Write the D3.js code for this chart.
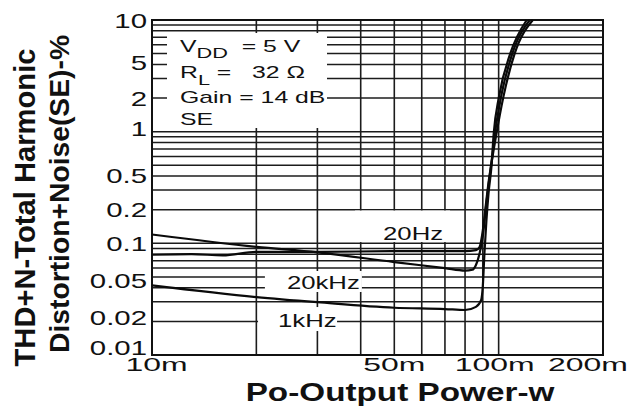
<!DOCTYPE html>
<html>
<head>
<meta charset="utf-8">
<script src="https://cdn.jsdelivr.net/npm/d3@7"></script>
<style>
  body { margin: 0; background: #fff; }
  text { font-family: "Liberation Sans", Arial, sans-serif; fill: #111; }
</style>
</head>
<body>
<div id="chart"></div>
<script>
// Output power in W, THD+N in %
var power20Hz = [0.010, 0.020, 0.030, 0.050, 0.070, 0.080, 0.084, 0.086, 0.088, 0.090, 0.0922, 0.0947, 0.0985, 0.1032, 0.1112, 0.1255];
var thd20Hz   = [0.12, 0.093, 0.083, 0.068, 0.060, 0.057, 0.058, 0.064, 0.080, 0.115, 0.23, 0.45, 0.95, 2.05, 5, 10];

var power20kHz = [0.010, 0.013, 0.016, 0.020, 0.030, 0.050, 0.070, 0.080, 0.086, 0.088, 0.090, 0.0915, 0.0935, 0.0955, 0.0976, 0.1016, 0.1095, 0.123];
var thd20kHz   = [0.079, 0.080, 0.078, 0.084, 0.084, 0.085, 0.085, 0.085, 0.087, 0.092, 0.13, 0.20, 0.35, 0.55, 0.97, 2.05, 5, 10];

var power1kHz = [0.010, 0.020, 0.030, 0.050, 0.070, 0.080, 0.086, 0.089, 0.090, 0.091, 0.0922, 0.0935, 0.0953, 0.0968, 0.1002, 0.1080, 0.1205];
var thd1kHz   = [0.042, 0.033, 0.0297, 0.0265, 0.0258, 0.0253, 0.027, 0.031, 0.041, 0.082, 0.16, 0.28, 0.48, 0.97, 2.05, 5, 10];

var yTickValues = [10, 5, 2, 1, 0.5, 0.2, 0.1, 0.05, 0.02, 0.01];
var yTickLabels = ["10", "5", "2", "1", "0.5", "0.2", "0.1", "0.05", "0.02", "0.01"];
var xTickValues = [0.01, 0.05, 0.1, 0.2];
var xTickLabels = ["10m", "50m", "100m", "200m"];

var curveLabels = ["20Hz", "20kHz", "1kHz"];
var labelPower  = [0.0464, 0.0245, 0.0231];
var labelThd    = [0.107, 0.039, 0.0178];

// label nudges (px)
var yLabelDy = [0, 9, 0, -3.5, 10, 0, 0, 3.5, -4, -7.5];
var xLabelDx = [4.5, 0, -4, -15];
// white knock-out boxes behind labels: [dx0, dy0, dx1, dy1] relative to text start/baseline
var labelBoxes = [[-28, -29.5, 67, 2], [-22, -18, 75, 3], [-20, -20, 59, 4]];

var w = 635, h = 410;
var padL = 152, padR = 603, padT = 20, padB = 355;

var svg = d3.select("#chart").append("svg")
    .attr("width", w)
    .attr("height", h);

var xScale = d3.scaleLog().domain([0.01, 0.2]).range([padL, padR]);
var yScale = d3.scaleLog().domain([0.01, 10]).range([padB, padT]);

// grid
var hGrid = [];
[0.01, 0.1, 1].forEach(function(d) {
    for (var k = 1; k <= 9; k++) hGrid.push(+(k * d).toPrecision(3));
});
hGrid.push(10);
var vGrid = d3.range(2, 11).map(function(k) { return +(k * 0.01).toFixed(2); });

svg.append("g").selectAll("line").data(hGrid).enter().append("line")
    .attr("x1", padL).attr("x2", padR)
    .attr("y1", d => yScale(d)).attr("y2", d => yScale(d))
    .attr("stroke", "#1c1c1c").attr("stroke-width", 1.5);

svg.append("g").selectAll("line").data(vGrid).enter().append("line")
    .attr("x1", d => xScale(d)).attr("x2", d => xScale(d))
    .attr("y1", padT).attr("y2", padB)
    .attr("stroke", "#1c1c1c").attr("stroke-width", 1.6);

// conditions box (covers grid)
svg.append("rect")
    .attr("x", padL + 15).attr("y", padT + 13)
    .attr("width", 160).attr("height", 95)
    .attr("fill", "#fff");

var cond = svg.append("g").attr("font-size", 16);
function condLine(y, parts) {
    var t = cond.append("text")
        .attr("transform", "translate(" + (padL + 28) + "," + y + ") scale(1.55,1)");
    parts.forEach(function(p) {
        t.append("tspan")
            .attr("font-size", p.sub ? 14 : 16)
            .attr("dy", p.dy || 0)
            .text(p.t);
    });
}
condLine(padT + 31.5, [{t: "V"}, {t: "DD", sub: true, dy: 6}, {t: "\u00A0\u00A0= 5\u00A0V", dy: -6}]);
condLine(padT + 58, [{t: "R"}, {t: "L", sub: true, dy: 7}, {t: "\u00A0=\u00A0\u00A0 32\u00A0\u03A9", dy: -7}]);
condLine(padT + 83, [{t: "Gain = 14 dB"}]);
condLine(padT + 105, [{t: "SE"}]);

// curve label knock-outs
curveLabels.forEach(function(lbl, i) {
    var x0 = xScale(labelPower[i]), y0 = yScale(labelThd[i]), b = labelBoxes[i];
    svg.append("rect")
        .attr("x", x0 + b[0]).attr("y", y0 + b[1])
        .attr("width", b[2] - b[0]).attr("height", b[3] - b[1])
        .attr("fill", "#fff");
});

// frame
svg.append("rect")
    .attr("x", padL).attr("y", padT)
    .attr("width", padR - padL).attr("height", padB - padT)
    .attr("fill", "none").attr("stroke", "#111").attr("stroke-width", 2);

// curves
var line = d3.line()
    .x(d => xScale(d[0]))
    .y(d => yScale(d[1]))
    .curve(d3.curveMonotoneX);

[[power20Hz, thd20Hz], [power20kHz, thd20kHz], [power1kHz, thd1kHz]].forEach(function(s) {
    svg.append("path")
        .datum(d3.zip(s[0], s[1]))
        .attr("d", line)
        .attr("fill", "none")
        .attr("stroke", "#0a0a0a")
        .attr("stroke-width", 2.2);
});

// curve labels
curveLabels.forEach(function(lbl, i) {
    svg.append("text")
        .attr("transform", "translate(" + xScale(labelPower[i]) + "," + yScale(labelThd[i]) + ") scale(1.43,1)")
        .attr("font-size", 18)
        .text(lbl);
});

// y tick labels
yTickValues.forEach(function(v, i) {
    svg.append("text")
        .attr("transform", "translate(147," + (yScale(v) + 7.5 + yLabelDy[i]) + ") scale(1.4,1)")
        .attr("text-anchor", "end")
        .attr("font-size", 21)
        .text(yTickLabels[i]);
});

// x tick labels
xTickValues.forEach(function(v, i) {
    svg.append("text")
        .attr("transform", "translate(" + (xScale(v) + xLabelDx[i]) + ",371) scale(1.68,1)")
        .attr("text-anchor", "middle")
        .attr("font-size", 19)
        .text(xTickLabels[i]);
});

// axis titles
svg.append("text")
    .attr("transform", "translate(400,401) scale(1.28,1)")
    .attr("text-anchor", "middle")
    .attr("font-size", 26)
    .attr("font-weight", "bold")
    .text("Po-Output Power-w");

svg.append("text")
    .attr("transform", "translate(35,207.5) rotate(-90)")
    .attr("text-anchor", "middle")
    .attr("font-size", 29)
    .attr("font-weight", "bold")
    .attr("textLength", 318)
    .attr("lengthAdjust", "spacingAndGlyphs")
    .text("THD+N-Total Harmonic");

svg.append("text")
    .attr("transform", "translate(69,194) rotate(-90)")
    .attr("text-anchor", "middle")
    .attr("font-size", 28)
    .attr("font-weight", "bold")
    .attr("textLength", 318)
    .attr("lengthAdjust", "spacingAndGlyphs")
    .text("Distortion+Noise(SE)-%");
</script>
</body>
</html>
